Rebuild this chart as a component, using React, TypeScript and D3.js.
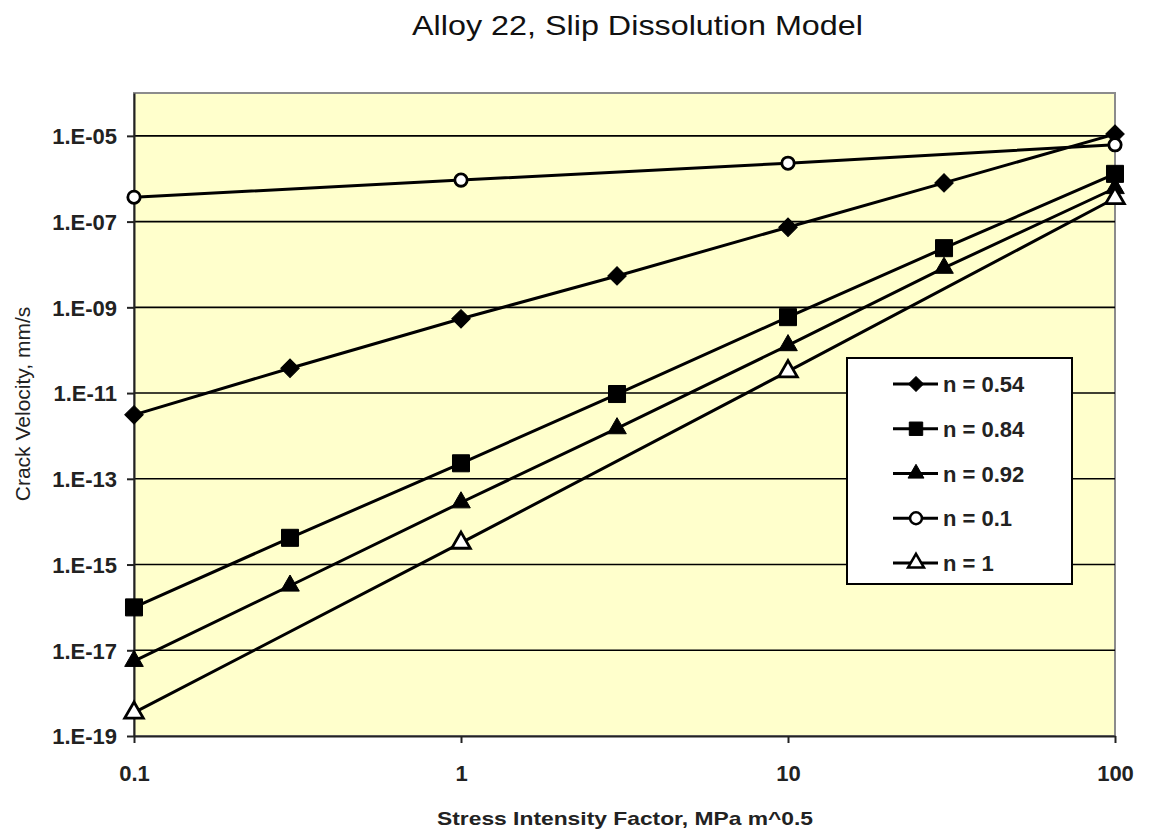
import { useEffect, useRef } from "react";
import * as d3 from "d3";

// Stress intensity factor values (MPa m^0.5)
const kFull = [0.1, 0.3, 1, 3, 10, 30, 100];
const kDecades = [0.1, 1, 10, 100];

// Crack velocity, mm/s
const n054 = [3.1e-12, 3.8e-11, 5.4e-10, 5.4e-9, 7.4e-8, 8e-7, 1.1e-5];
const n084 = [1e-16, 4.2e-15, 2.3e-13, 9.5e-12, 5.9e-10, 2.4e-8, 1.3e-6];
const n092 = [5.6e-18, 3.2e-16, 2.8e-14, 1.5e-12, 1.3e-10, 8.3e-9, 6e-7];
const n01 = [3.7e-7, 9.3e-7, 2.3e-6, 6.2e-6];
const n1 = [3.5e-19, 3.2e-15, 3.2e-11, 3.5e-7];

const seriesNames = ["n = 0.54", "n = 0.84", "n = 0.92", "n = 0.1", "n = 1"];
const xTickValues = [0.1, 1, 10, 100];
const xTickLabels = ["0.1", "1", "10", "100"];
const yTickValues = [1e-19, 1e-17, 1e-15, 1e-13, 1e-11, 1e-9, 1e-7, 1e-5];
const yTickLabels = ["1.E-19", "1.E-17", "1.E-15", "1.E-13", "1.E-11", "1.E-09", "1.E-07", "1.E-05"];

export default function App() {
    const ref = useRef<SVGSVGElement>(null);

    useEffect(() => {
        document.body.style.margin = "0";
        const svg = d3.select(ref.current);
        svg.selectAll("*").remove();

        const left = 134, right = 1115, top = 93, bottom = 736;
        const font = "Arial, 'Liberation Sans', sans-serif";

        const x = d3.scaleLog().domain([0.1, 100]).range([left, right]);
        const y = d3.scaleLog().domain([1e-19, 1e-4]).range([bottom, top]);

        // plot background
        svg.append("rect")
            .attr("x", left).attr("y", top)
            .attr("width", right - left).attr("height", bottom - top)
            .attr("fill", "#FFFFCC")
            .attr("stroke", "#8c8c8c").attr("stroke-width", 2);

        // gridlines
        svg.append("g").selectAll("line")
            .data(yTickValues.filter(v => v > 1e-19))
            .enter().append("line")
            .attr("x1", left).attr("x2", right)
            .attr("y1", d => y(d)).attr("y2", d => y(d))
            .attr("stroke", "#000").attr("stroke-width", 1.6);

        // axes
        const yAxis = d3.axisLeft(y).tickValues(yTickValues)
            .tickFormat((d, i) => yTickLabels[i]).tickSizeInner(7).tickSizeOuter(0).tickPadding(10);
        const yg = svg.append("g").attr("transform", `translate(${left},0)`).call(yAxis);
        yg.select(".domain").attr("stroke", "#222").attr("stroke-width", 2);
        yg.selectAll(".tick line").attr("stroke", "#222").attr("stroke-width", 2);
        yg.selectAll("text")
            .attr("font-family", font).attr("font-size", 22).attr("font-weight", "bold")
            .attr("fill", "#222").attr("dy", "0.36em");

        const xAxis = d3.axisBottom(x).tickValues(xTickValues)
            .tickFormat((d, i) => xTickLabels[i]).tickSizeInner(7).tickSizeOuter(0).tickPadding(22);
        const xg = svg.append("g").attr("transform", `translate(0,${bottom})`).call(xAxis);
        xg.select(".domain").attr("stroke", "#222").attr("stroke-width", 2);
        xg.selectAll(".tick line").attr("stroke", "#222").attr("stroke-width", 2);
        xg.selectAll("text")
            .attr("font-family", font).attr("font-size", 22).attr("font-weight", "bold")
            .attr("fill", "#222");

        // symbols
        const diamond = d3.symbol().type(d3.symbolSquare).size(170);
        const square = d3.symbol().type(d3.symbolSquare).size(290);
        const triangle = d3.symbol().type(d3.symbolTriangle).size(150);
        const circle = d3.symbol().type(d3.symbolCircle).size(120);

        const series = [
            { name: seriesNames[0], xs: kFull, ys: n054, path: diamond, rot: 45, fill: "#000" },
            { name: seriesNames[1], xs: kFull, ys: n084, path: square, rot: 0, fill: "#000" },
            { name: seriesNames[2], xs: kFull, ys: n092, path: triangle, rot: 0, fill: "#000" },
            { name: seriesNames[3], xs: kDecades, ys: n01, path: circle, rot: 0, fill: "#fff" },
            { name: seriesNames[4], xs: kDecades, ys: n1, path: triangle, rot: 0, fill: "#fff" },
        ];

        const line = d3.line<[number, number]>()
            .x(d => x(d[0]))
            .y(d => y(d[1]));

        series.forEach(s => {
            const pts = s.xs.map((k, i) => [k, s.ys[i]] as [number, number]);
            svg.append("path")
                .datum(pts)
                .attr("fill", "none")
                .attr("stroke", "#000")
                .attr("stroke-width", 3)
                .attr("d", line);
        });

        series.forEach(s => {
            const pts = s.xs.map((k, i) => [k, s.ys[i]] as [number, number]);
            svg.append("g").selectAll("path")
                .data(pts)
                .enter().append("path")
                .attr("d", s.path())
                .attr("transform", d => `translate(${x(d[0])},${y(d[1])}) rotate(${s.rot})`)
                .attr("fill", s.fill)
                .attr("stroke", "#000")
                .attr("stroke-width", s.fill === "#000" ? 1 : 2.8);
        });

        // legend
        const lg = svg.append("g");
        lg.append("rect")
            .attr("x", 847).attr("y", 358)
            .attr("width", 225).attr("height", 226)
            .attr("fill", "#fff").attr("stroke", "#000").attr("stroke-width", 2);
        const legendY = d3.scalePoint<string>().domain(seriesNames).range([384, 563]);
        series.forEach(s => {
            const ly = legendY(s.name) as number;
            lg.append("line")
                .attr("x1", 893).attr("x2", 938)
                .attr("y1", ly).attr("y2", ly)
                .attr("stroke", "#000").attr("stroke-width", 3);
            lg.append("path")
                .attr("d", s.path.size(s.path === square ? 180 : 110)())
                .attr("transform", `translate(916,${ly}) rotate(${s.rot})`)
                .attr("fill", s.fill)
                .attr("stroke", "#000")
                .attr("stroke-width", s.fill === "#000" ? 1 : 2.5);
            lg.append("text")
                .attr("x", 943).attr("y", ly + 8)
                .attr("font-family", font).attr("font-size", 22).attr("font-weight", "bold")
                .attr("fill", "#222")
                .text(s.name);
        });

        // titles
        svg.append("text")
            .attr("x", 412).attr("y", 35)
            .attr("font-family", font).attr("font-size", 28)
            .attr("fill", "#111")
            .attr("textLength", 451).attr("lengthAdjust", "spacingAndGlyphs")
            .text("Alloy 22, Slip Dissolution Model");

        svg.append("text")
            .attr("x", 437).attr("y", 825)
            .attr("font-family", font).attr("font-size", 19).attr("font-weight", "bold")
            .attr("fill", "#222")
            .attr("textLength", 376).attr("lengthAdjust", "spacingAndGlyphs")
            .text("Stress Intensity Factor, MPa m^0.5");

        svg.append("text")
            .attr("transform", "translate(30,404) rotate(-90)")
            .attr("text-anchor", "middle")
            .attr("font-family", font).attr("font-size", 21)
            .attr("fill", "#222")
            .text("Crack Velocity, mm/s");
    }, []);

    return <svg ref={ref} width={1149} height={834} style={{ display: "block", background: "#fff" }}></svg>;
}
